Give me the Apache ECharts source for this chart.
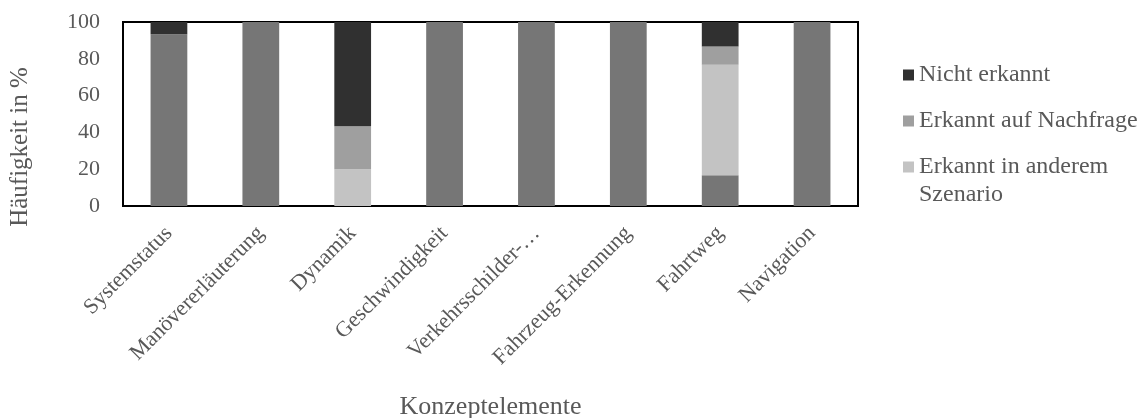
<!DOCTYPE html>
<html>
<head>
<meta charset="utf-8">
<script src="https://cdn.jsdelivr.net/npm/echarts@6/dist/echarts.min.js"></script>
<style>html,body{margin:0;padding:0;background:#fff}#c{width:1144px;height:418px}</style>
</head>
<body>
<div id="c"></div>
<script>
const categories = ['Systemstatus','Manövererläuterung','Dynamik','Geschwindigkeit','Verkehrsschilder-…','Fahrzeug-Erkennung','Fahrtweg','Navigation'];
const erkannt = [93.3, 100, 0, 100, 100, 100, 16.7, 100];
const erkanntAnderes = [0, 0, 20, 0, 0, 0, 60, 0];
const erkanntNachfrage = [0, 0, 23.3, 0, 0, 0, 10, 0];
const nichtErkannt = [6.7, 0, 56.7, 0, 0, 0, 13.3, 0];
const yTicks = [0, 20, 40, 60, 80, 100];

const font = 'Liberation Serif';
const txt = '#595959';
const chart = echarts.init(document.getElementById('c'));
const mk = (name, data, color) => ({name, type:'bar', stack:'s', data, barWidth:'40%', itemStyle:{color}, emphasis:{disabled:true}});
chart.setOption({
  animation:false,
  textStyle:{fontFamily:font},
  grid:{left:123, right:286, top:22, bottom:212, show:true, borderColor:'#000', borderWidth:2, backgroundColor:'transparent', containLabel:false, outerBoundsMode:'none'},
  legend:{
    orient:'vertical', left:898, top:56, itemGap:18, itemWidth:11, itemHeight:11, icon:'rect',
    data:['Nicht erkannt','Erkannt auf Nachfrage','Erkannt in anderem Szenario'],
    textStyle:{fontFamily:font, fontSize:24, color:txt, lineHeight:28},
    formatter: n => n === 'Erkannt in anderem Szenario' ? 'Erkannt in anderem' : n
  },
  graphic:[{
    type:'text', left:919, top:181,
    style:{text:'Szenario', fontFamily:font, fontSize:24, fill:txt, lineHeight:28}
  }],
  xAxis:{
    type:'category', data:categories,
    name:'Konzeptelemente', nameLocation:'middle', nameGap:188,
    nameTextStyle:{fontFamily:font, fontSize:26, color:txt},
    axisLine:{show:false}, axisTick:{show:false},
    axisLabel:{rotate:45, fontFamily:font, fontSize:22, color:txt, interval:0, margin:24}
  },
  yAxis:{
    type:'value', min:yTicks[0], max:yTicks[yTicks.length-1], interval:20,
    name:'Häufigkeit in %', nameLocation:'middle', nameGap:90,
    nameTextStyle:{fontFamily:font, fontSize:25, color:txt, padding:[0,66,0,0]},
    splitLine:{show:false}, axisLine:{show:false}, axisTick:{show:false},
    axisLabel:{fontFamily:font, fontSize:22, color:txt, margin:23}
  },
  series:[
    mk('Erkannt', erkannt, '#767676'),
    mk('Erkannt in anderem Szenario', erkanntAnderes, '#c3c3c3'),
    mk('Erkannt auf Nachfrage', erkanntNachfrage, '#9f9f9f'),
    mk('Nicht erkannt', nichtErkannt, '#303030')
  ]
});
</script>
</body>
</html>
